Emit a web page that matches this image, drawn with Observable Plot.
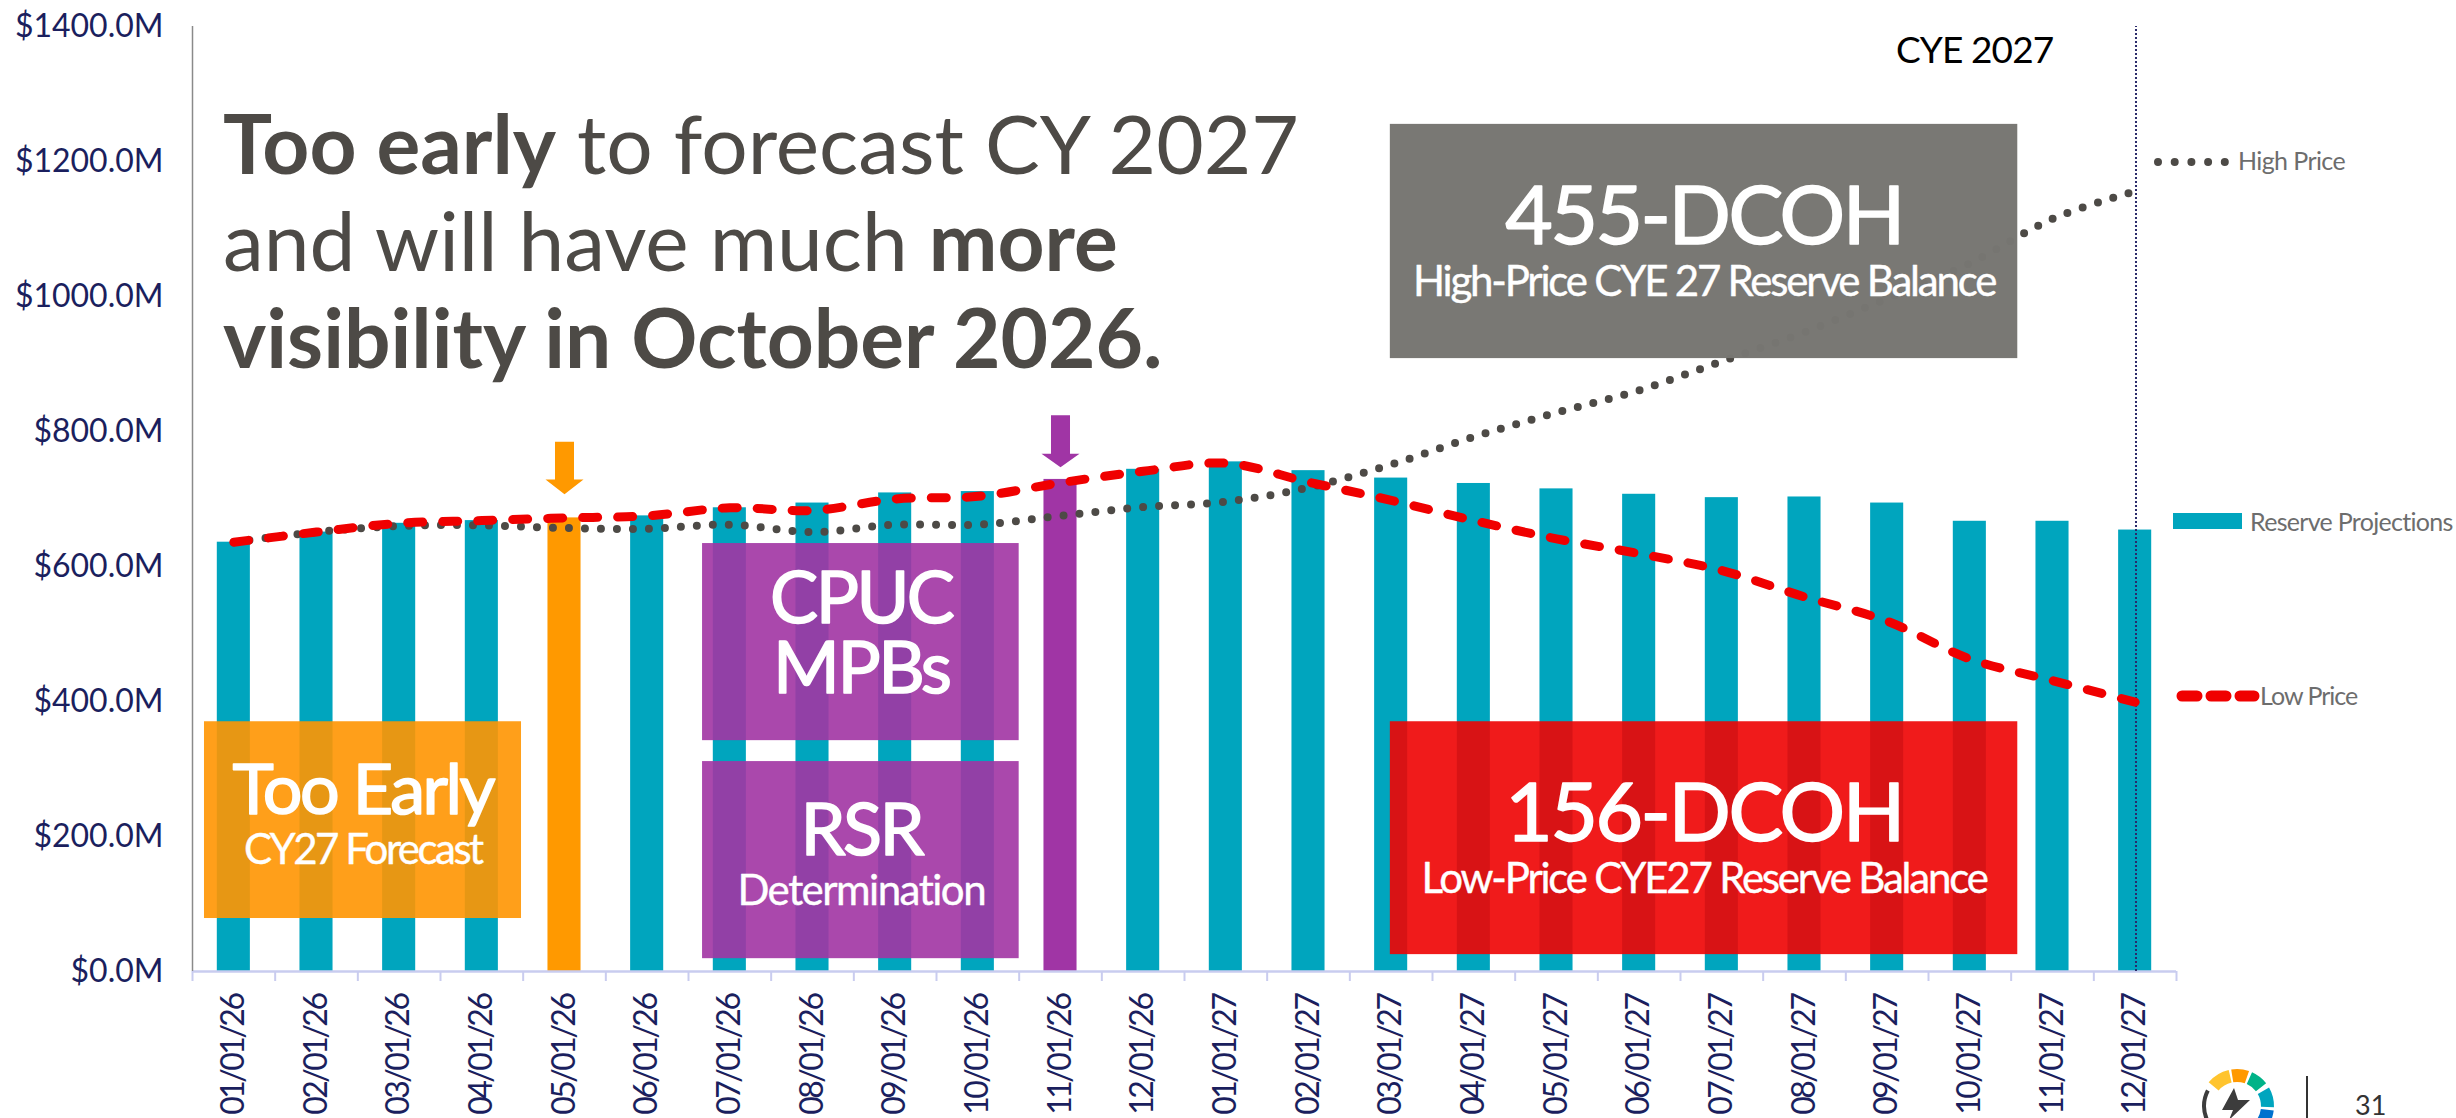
<!DOCTYPE html>
<html>
<head>
<meta charset="utf-8">
<script src="https://cdn.jsdelivr.net/npm/d3@7"></script>
<script src="https://cdn.jsdelivr.net/npm/@observablehq/plot@0.6"></script>
<style>
html,body{margin:0;padding:0;background:#fff;overflow:hidden}
#wrap{position:relative;width:2456px;height:1118px;font-family:Lato,sans-serif}
#wrap svg{display:block;font-family:Lato,sans-serif}
.xl text,.xl{letter-spacing:-2.5px}
.t2 text,.t2{letter-spacing:-2.5px}
.s1 text,.s1{letter-spacing:-2.2px}
.s2 text,.s2{letter-spacing:-2.5px}
.s3 text,.s3{letter-spacing:-1.5px}
.abs{position:absolute;white-space:nowrap}
#headline{left:223px;top:94px;font-size:82px;line-height:97px;color:#4d4a46}
#headline b{font-weight:700}
.leg{color:#6d6d6d;font-size:25px;letter-spacing:-.6px}
</style>
</head>
<body>
<div id="wrap">
<div id="chart"></div>
<div class="abs" id="headline">
<b>Too early</b> to forecast CY 2027<br>and will have much <b>more</b><br><b>visibility in October 2026.</b>
</div>
<div class="abs" style="left:1896px;top:26px;font-size:37px;color:#000;letter-spacing:-.9px">CYE 2027</div>
<div class="abs leg" style="left:2238px;top:145px">High Price</div>
<div class="abs leg" style="left:2250px;top:506px;letter-spacing:-.7px">Reserve Projections</div>
<div class="abs leg" style="left:2260px;top:680px;letter-spacing:-1px">Low Price</div>
<svg class="abs" style="left:0;top:0;pointer-events:none" width="2456" height="1118" id="deco"></svg>
<div class="abs" style="left:2355px;top:1088px;font-size:27px;color:#333">31</div>
</div>
<script>
const months = ["01/01/26","02/01/26","03/01/26","04/01/26","05/01/26","06/01/26","07/01/26","08/01/26","09/01/26","10/01/26","11/01/26","12/01/26",
  "01/01/27","02/01/27","03/01/27","04/01/27","05/01/27","06/01/27","07/01/27","08/01/27","09/01/27","10/01/27","11/01/27","12/01/27"];
const reserveProjections = [636,651,664,668,672,675,687,694,709,711,729,744,755,742,731,723,715,707,702,703,694,667,667,654];
const lowPrice = [636,651,664,668,672,675,687,683,700,704,724,741,753,725,698,668,641,619,594,555,519,463,431,399];
const highPrice = [636,651,660,661,657,656,662,651,662,662,675,688,696,717,751,792,828,861,904,947,997,1049,1115,1156];
const yTicks = [0,200,400,600,800,1000,1200,1400];

const TEAL="#00A5BE", ORANGE="#FF9900", PURPLE="#A035A5", RED="#F00000", NAVY="#1B1F5E", DARK="#4D4A46";
const F="Lato, sans-serif";

const rows = months.map((m,i)=>({m,i,c:i+.5,res:reserveProjections[i],low:lowPrice[i],high:highPrice[i],
  fill:i===4?ORANGE:i===10?PURPLE:TEAL}));

// annotation boxes in scale units (month index, $M)
const boxes = [
  {x1:.145,x2:3.98,y1:78.5,y2:370,fill:"#FF9502",o:.906},
  {x1:6.17,x2:10,y1:342,y2:634,fill:"#A135A3",o:.906},
  {x1:6.17,x2:10,y1:19,y2:311,fill:"#A135A3",o:.906},
  {x1:14.49,x2:22.08,y1:25,y2:370,fill:"#EE0303",o:.906},
  {x1:14.49,x2:22.08,y1:908,y2:1255,fill:"#777672",o:.985}
];
const bigLabels = [
  {t:"Too Early",x:2.06,y:233,s:70},
  {t:"CPUC",x:8.09,y:517,s:72},
  {t:"MPBs",x:8.09,y:413,s:72},
  {t:"RSR",x:8.09,y:172,s:72},
  {t:"156-DCOH",x:18.285,y:194,s:82},
  {t:"455-DCOH",x:18.285,y:1078,s:82}
];
const subLong = [
  {t:"Low-Price CYE27 Reserve Balance",x:18.285,y:117,s:42},
  {t:"High-Price CYE 27 Reserve Balance",x:18.285,y:1001,s:42}
];
const subForecast = [{t:"CY27 Forecast",x:2.06,y:160,s:42}];
const subDetermination = [{t:"Determination",x:8.09,y:99,s:42}];
const arrowPoly=(i,top,neck,tip)=>{const c=i+.5,s=.115,h=.23;
  return [[c-s,top],[c+s,top],[c+s,neck],[c+h,neck],[c,tip],[c-h,neck],[c-s,neck]];};
const subText=(rowsIn,cls)=>Plot.text(rowsIn,{text:"t",x:"x",y:"y",fontSize:"s",fill:"#fff",fontFamily:F,lineAnchor:"bottom",className:cls,stroke:"#fff",strokeWidth:.4});

const chart = Plot.plot({
  width:2456,height:1118,
  marginLeft:192,marginRight:280,marginTop:26,marginBottom:147,
  style:{background:"#fff",fontFamily:F},
  x:{domain:[0,24],axis:null},
  y:{domain:[0,1400],axis:null},
  marks:[
    Plot.rectY(rows,{x1:d=>d.i+.3,x2:d=>d.i+.7,y:"res",fill:"fill"}),
    Plot.ruleY([0],{stroke:"#C9CCEF",strokeWidth:2.5}),
    Plot.ruleX([0],{stroke:"#8a8a8a",strokeWidth:1.5}),
    Plot.ruleX([23.51],{y1:0,y2:1400,stroke:"#2b2b6b",strokeWidth:2,strokeDasharray:"2,2"}),
    Plot.axisX({ticks:d3.range(0,25),tickSize:10,tickFormat:()=>"",stroke:"#C9CCEF",strokeWidth:2,label:null}),
    Plot.axisX({ticks:rows.map(d=>d.c),tickSize:0,tickPadding:23,tickRotate:-90,
      tickFormat:v=>months[Math.floor(v)],fill:NAVY,fontSize:32,fontFamily:F,label:null,className:"xl"}),
    Plot.axisY({ticks:yTicks,tickSize:0,tickPadding:29,tickFormat:v=>"$"+v.toFixed(1)+"M",
      fill:NAVY,fontSize:32,fontFamily:F,label:null}),
    Plot.line(rows,{x:"c",y:"high",stroke:DARK,strokeWidth:8,strokeDasharray:"0,16",strokeLinecap:"round",curve:"catmull-rom"}),
    Plot.line(rows,{x:"c",y:"low",stroke:RED,strokeWidth:9,strokeDasharray:"15,20",strokeLinecap:"round",curve:"catmull-rom"}),
    Plot.rect(boxes,{x1:"x1",x2:"x2",y1:"y1",y2:"y2",fill:"fill",fillOpacity:"o"}),
    Plot.line(arrowPoly(4,785,729,707),{x:d=>d[0],y:d=>d[1],fill:ORANGE,stroke:null}),
    Plot.line(arrowPoly(10,824,767,747),{x:d=>d[0],y:d=>d[1],fill:PURPLE,stroke:null}),
    Plot.text(bigLabels,{text:"t",x:"x",y:"y",fontSize:"s",fill:"#fff",stroke:"#fff",strokeWidth:1.6,fontFamily:F,lineAnchor:"bottom",className:"t2"}),
    subText(subLong,"s1"),
    subText(subForecast,"s2"),
    subText(subDetermination,"s3")
  ]
});
document.getElementById("chart").appendChild(chart);

// legend keys and page logo
const deco=d3.select("#deco");
deco.append("rect").attr("x",2173).attr("y",513).attr("width",69).attr("height",16).attr("fill",TEAL);
deco.append("line").attr("x1",2182).attr("x2",2254).attr("y1",696).attr("y2",696)
  .attr("stroke",RED).attr("stroke-width",11).attr("stroke-dasharray","15,14").attr("stroke-linecap","round");
deco.append("line").attr("x1",2158).attr("x2",2231).attr("y1",162).attr("y2",162)
  .attr("stroke",DARK).attr("stroke-width",8).attr("stroke-dasharray","0,16.7").attr("stroke-linecap","round");
const g=deco.append("g").attr("transform","translate(2237,1106)");
const rad=a=>a*Math.PI/180;
[[-50,-13,"#FFC42E"],[-9,19,"#FF9900"],[24,52,"#00B388"],[60,92,"#00A5BE"],[97,125,"#0071CE"]].forEach(([a,b,c])=>
  g.append("path").attr("d",d3.arc()({innerRadius:24,outerRadius:37,startAngle:rad(a),endAngle:rad(b)})).attr("fill",c));
g.append("path").attr("d",d3.arc()({innerRadius:31,outerRadius:35,startAngle:rad(-120),endAngle:rad(-62)})).attr("fill","#3c3c3c");
g.append("polygon").attr("points","-3,-18 -15,4 -4,4 -8,14 13,-6 1,-6").attr("fill","#3c3c3c");
deco.append("line").attr("x1",2307).attr("x2",2307).attr("y1",1076).attr("y2",1118).attr("stroke","#333").attr("stroke-width",2);
</script>
</body>
</html>
